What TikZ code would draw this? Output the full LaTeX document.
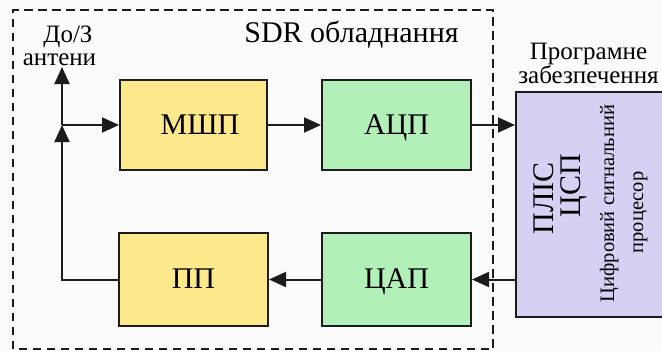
\documentclass[tikz,border=0pt]{standalone}
\usepackage{fontspec}
\setmainfont{Liberation Serif}
\usetikzlibrary{arrows.meta}
\definecolor{ink}{RGB}{28,28,28}
\definecolor{amp}{RGB}{253,233,140}
\definecolor{conv}{RGB}{179,240,185}
\definecolor{proc}{RGB}{214,208,242}
\tikzset{
  big/.style={font=\fontsize{30}{33}\selectfont},
  mid/.style={font=\fontsize{25}{28}\selectfont},
  small/.style={font=\fontsize{20.5}{23}\selectfont},
  blk/.style={draw=ink, line width=2pt, big,
    inner sep=0pt, text height=18pt, text depth=0pt},
  link/.style={draw=ink, line width=2pt, -{Triangle[length=17pt,width=15pt]}},
  lbl/.style={inner sep=0pt, anchor=base}
}
\begin{document}
\begin{tikzpicture}[x=1pt,y=-1pt]
  \useasboundingbox (0,0) rectangle (662,351);
  \fill[white!98.5!black] (0,0) rectangle (662,351);
  % equipment boundary
  \draw[ink, line width=1.6pt, dash pattern=on 8.5pt off 5.5pt] (13,349) -- (13,10) -- (493,10) -- (493,349) -- cycle;
  \node[lbl, big] (sdr) at (351.5,42) {SDR обладнання};
  % functional blocks
  \node[blk, fill=amp, minimum width=147pt, minimum height=90pt] (lna) at (193.5,125) {\hspace*{13pt}МШП};
  \node[blk, fill=conv, minimum width=149pt, minimum height=90pt] (adc) at (396.5,125) {АЦП};
  \node[blk, fill=amp, minimum width=149pt, minimum height=93pt] (pa) at (193.5,279.5) {ПП};
  \node[blk, fill=conv, minimum width=149pt, minimum height=93pt] (dac) at (396.5,279.5) {ЦАП};
  \node[blk, fill=proc, minimum width=150pt, minimum height=225pt, anchor=north west] (dsp) at (515,91) {};
  % processor labels, read bottom to top
  \node[lbl, rotate=90, big] (fpga) at (553,198.5) {ПЛІС};
  \node[lbl, rotate=90, big] (csp) at (580,185.5) {ЦСП};
  \node[lbl, rotate=90, small] (dspa) at (614,203.5) {Цифровий сигнальний};
  \node[lbl, rotate=90, small] (dspb) at (643,212.5) {процесор};
  % software label
  \node[inner sep=0pt, align=center, font=\fontsize{25}{21.5}\selectfont, anchor=south]
    (sw) at (588.5,84) {Програмне\\забезпечення};
  % antenna
  \node[lbl, mid] (ant1) at (68,42) {До/З};
  \node[lbl, mid] (ant2) at (59.5,65) {антени};
  \coordinate (j) at (62,125);
  \coordinate (top) at (62,67);
  \coordinate (c) at (62,279.5);
  % signal paths
  \draw[link] (j) -- (top);
  \draw[link] (j) -- (lna.west);
  \draw[link] (lna) -- (adc);
  \draw[link] (adc.east) -- (adc.east -| dsp.west);
  \draw[link] (dac.east -| dsp.west) -- (dac.east);
  \draw[link] (dac) -- (pa);
  \draw[link] (pa.west) -- (c) -- (j);
\end{tikzpicture}
\end{document}
